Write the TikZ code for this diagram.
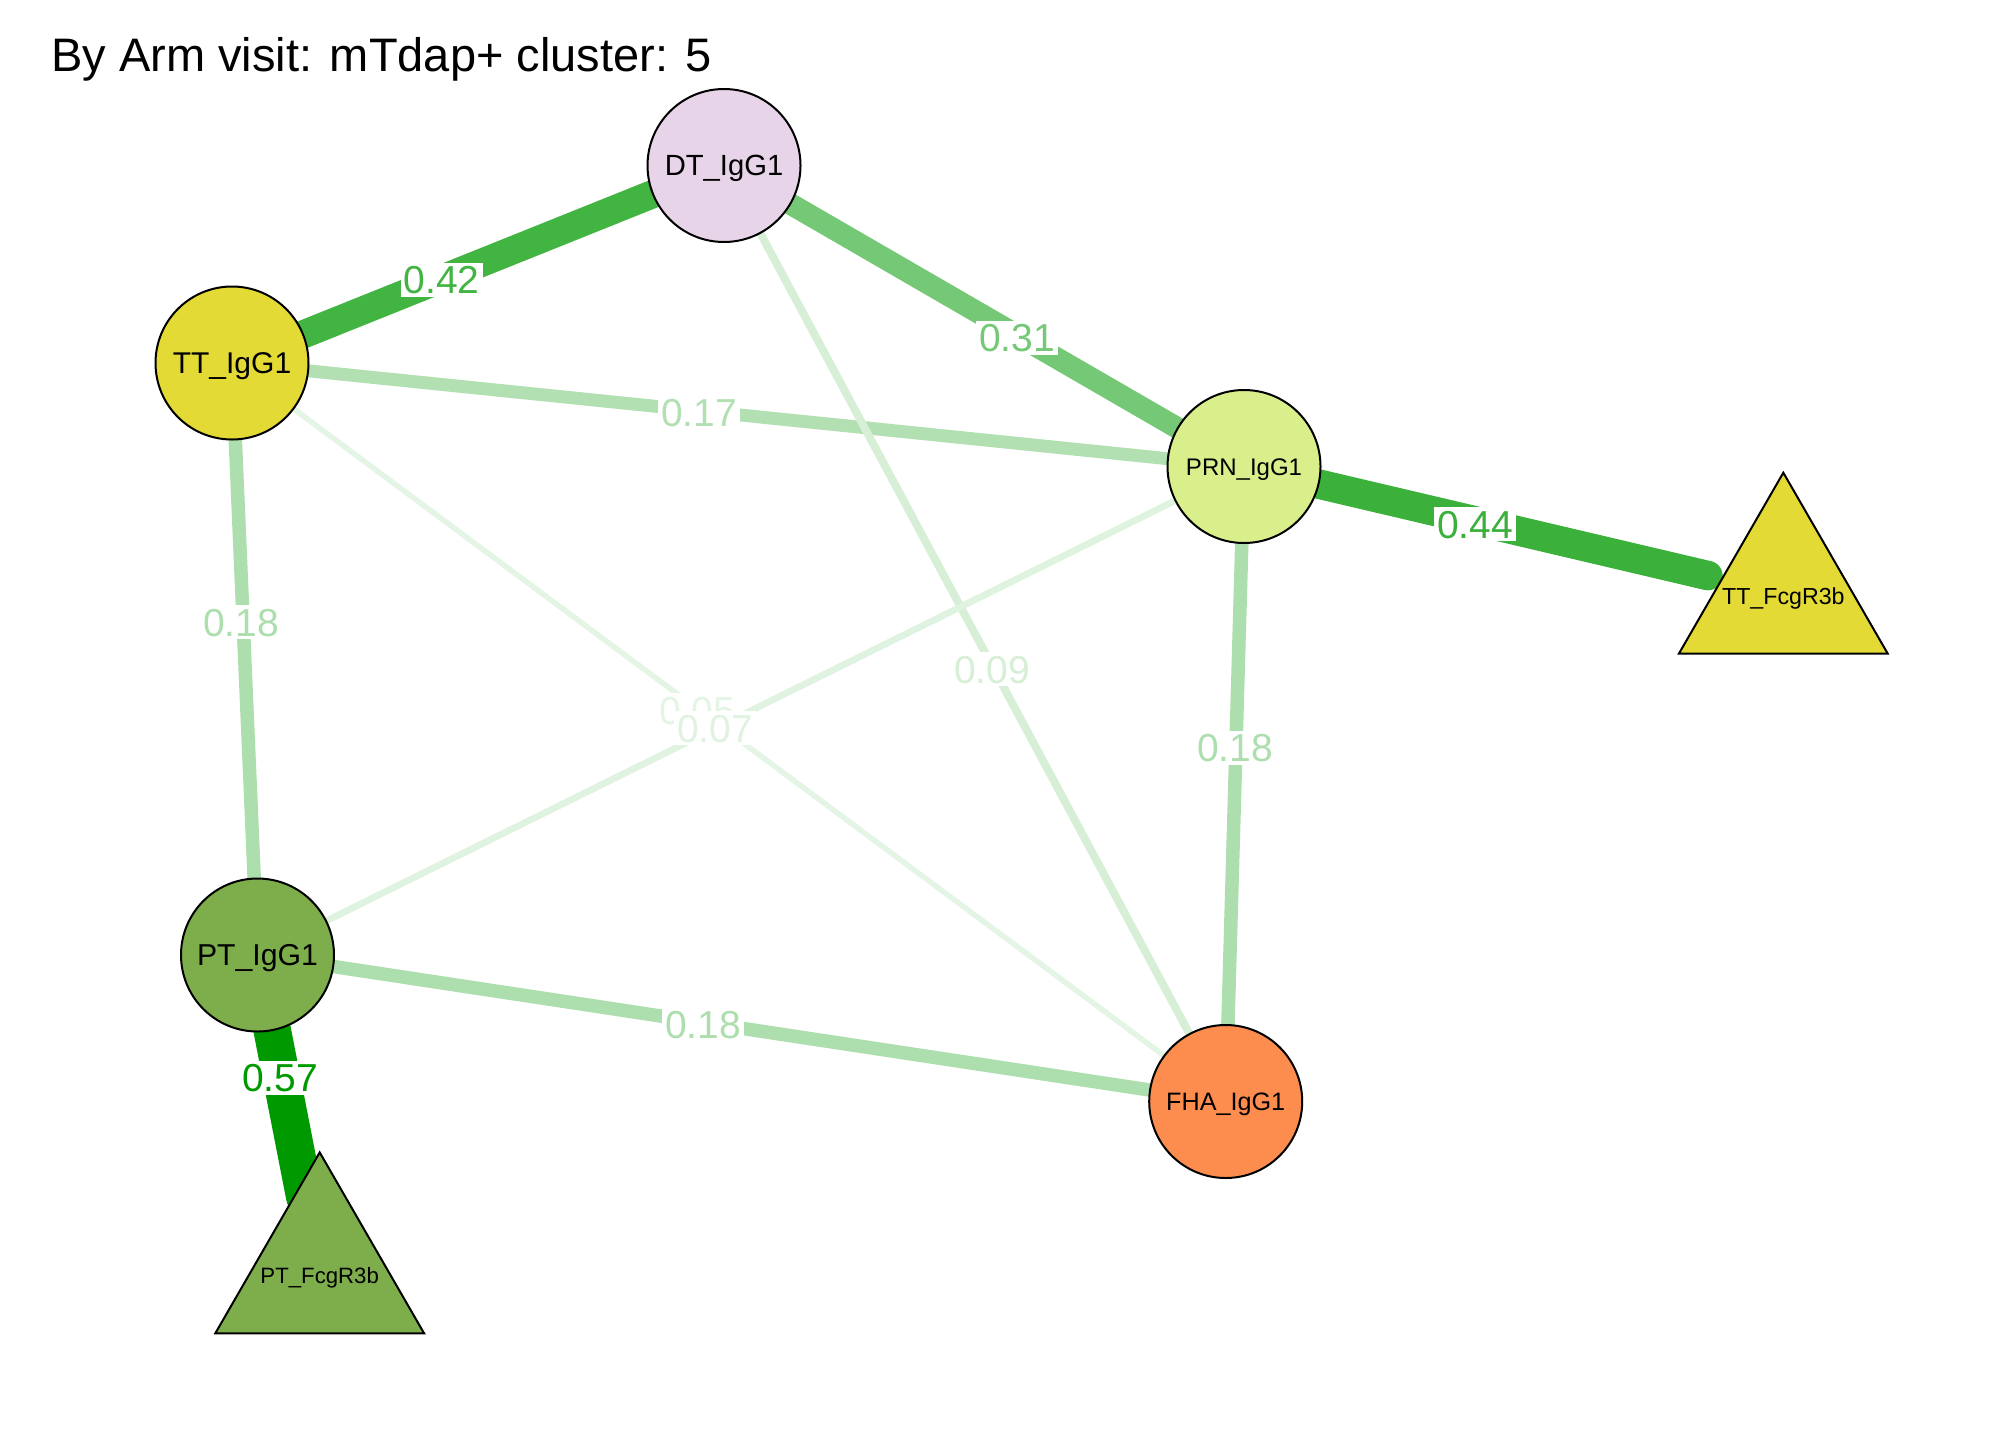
\documentclass[tikz,border=0pt]{standalone}
\usepackage{fontspec}
\setmainfont{Liberation Sans}
\usetikzlibrary{calc}
\pgfdeclarelayer{bg}
\pgfsetlayers{bg,main}
\definecolor{eg}{RGB}{0,153,0}
\definecolor{cDT}{RGB}{231,212,232}
\definecolor{cTT}{RGB}{228,218,54}
\definecolor{cPRN}{RGB}{217,239,139}
\definecolor{cPT}{RGB}{126,174,76}
\definecolor{cFHA}{RGB}{252,141,79}
\tikzset{
  vtx/.style={circle, draw=black, line width=1pt, minimum size=76.5pt, inner sep=0pt, text depth=0pt},
  tlab/.style={inner sep=0pt, text depth=0pt},
  trist/.style={draw=black, line width=1pt, line join=miter},
  fs/.style={font=\fontsize{#1}{#1}\selectfont, text height={0.716*#1pt}},
  ed/.style 2 args={line width=#1pt, draw=eg!#2!white, line cap=round},
  elab/.style={text=eg!#1!white, fill=white, font=\fontsize{19.5}{20}\selectfont, inner sep=1.5pt, text height=14pt, text depth=0pt}
}
\begin{document}
\begin{tikzpicture}[x=0.5pt,y=-0.5pt]
\useasboundingbox (0,0) rectangle (2016,1440);
% circle nodes
\node[vtx, fill=cDT, fs=14.6] (dt) at (724,165.5) {DT\_IgG1};
\node[vtx, fill=cTT, fs=15] (tt) at (232,363) {TT\_IgG1};
\node[vtx, fill=cPRN, fs=12] (prn) at (1244,466.5) {PRN\_IgG1};
\node[vtx, fill=cPT, fs=15.1] (pt) at (257.5,955) {PT\_IgG1};
\node[vtx, fill=cFHA, fs=12.6] (fha) at (1225.7,1101.5) {FHA\_IgG1};
% triangle nodes
\coordinate (ttc) at (1783.3,593.3);
\coordinate (ptc) at (319.7,1273);
\filldraw[trist, fill=cTT] ($(ttc)+(0,-120.6)$) -- ($(ttc)+(104.4,60.3)$) -- ($(ttc)+(-104.4,60.3)$) -- cycle;
\filldraw[trist, fill=cPT] ($(ptc)+(0,-120.6)$) -- ($(ptc)+(104.4,60.3)$) -- ($(ptc)+(-104.4,60.3)$) -- cycle;
\node[tlab, fs=11.6] (ttf) at (1783.3,596) {TT\_FcgR3b};
\node[tlab, fs=11.1] (ptf) at (319.7,1276) {PT\_FcgR3b};
% title
\node[anchor=base west, font=\fontsize{23.5}{28}\selectfont, inner sep=0pt] (title) at (51,71) {By Arm visit: mTdap+ cluster: 5};
% edges
\begin{pgfonlayer}{bg}
\fill[white] (0,0) rectangle (2016,1440);
\draw[ed={14.1}{74}] (tt.center) -- (dt.center);
\draw[ed={10.75}{54}] (dt.center) -- (prn.center);
\draw[ed={6.45}{30}] (tt.center) -- (prn.center);
\draw[ed={6.75}{32}] (tt.center) -- (pt.center);
\draw[ed={3.95}{16}] (dt.center) -- (fha.center);
\draw[ed={2.75}{10}] (tt.center) -- (fha.center);
\draw[ed={3.35}{12}] (pt.center) -- (prn.center);
\draw[ed={6.75}{32}] (prn.center) -- (fha.center);
\draw[ed={6.75}{32}] (pt.center) -- (fha.center);
\draw[ed={14.75}{77}] (prn.center) -- ($(ttc)!38.75pt!(prn.center)$);
\draw[ed={18.75}{100}] (pt.center) -- ($(ptc)!38.75pt!(pt.center)$);
\end{pgfonlayer}
% edge labels
\node[elab=74] (l1) at (441.6,279.6) {0.42};
\node[elab=54] (l2) at (1017,337.5) {0.31};
\node[elab=30] (l3) at (699,412) {0.17};
\node[elab=77] (l4) at (1475,524) {0.44};
\node[elab=32] (l5) at (241,622) {0.18};
\node[elab=16] (l6) at (992,669) {0.09};
\node[elab=10] (l7) at (697,710) {0.05};
\node[elab=12] (l8) at (715,728) {0.07};
\node[elab=32] (l9) at (1235,747.5) {0.18};
\node[elab=32] (l10) at (703,1024) {0.18};
\node[elab=100] (l11) at (280,1077.5) {0.57};
\end{tikzpicture}
\end{document}
